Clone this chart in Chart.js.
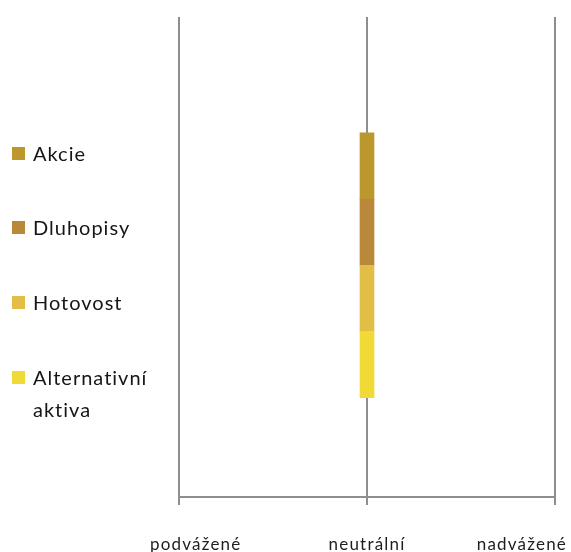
<!DOCTYPE html>
<html lang="cs">
<head>
<meta charset="utf-8">
<title>Alokace aktiv</title>
<script src="https://cdn.jsdelivr.net/npm/chart.js@4.4.1/dist/chart.umd.min.js"></script>
<style>
  html, body { margin: 0; padding: 0; background: #ffffff; }
  #wrap { position: relative; width: 571px; height: 552px; overflow: hidden; }
  #chart { position: absolute; left: 0; top: 0; }
  #legend { position: absolute; left: 12px; top: 0; margin: 0; padding: 0; list-style: none;
            font-family: Lato, "Open Sans", sans-serif; font-size: 20px; line-height: 32px;
            letter-spacing: 1px; color: #161616; }
  #legend li { position: absolute; left: 0; white-space: nowrap; }
  #legend .box { position: absolute; left: 0; top: 10px; width: 13px; height: 13px; }
  #legend .txt { display: block; margin-left: 21px; width: 135px; white-space: normal; }
</style>
</head>
<body>
<div id="wrap">
  <canvas id="chart" width="571" height="552"></canvas>
  <ul id="legend"></ul>
</div>
<script>
// Positioning scale along the horizontal axis
const tickLabels = ['podvážené', 'neutrální', 'nadvážené'];

// Asset classes, top to bottom as listed in the legend
const assetNames = ['Akcie', 'Dluhopisy', 'Hotovost', 'Alternativní aktiva'];
const assetColors = ['#BB972E', '#B98839', '#E2BE46', '#F2DA36'];

// Segment sizes of the column at each position (all classes sit at "neutrální")
const akcie        = [null, 1, null];
const dluhopisy    = [null, 1, null];
const hotovost     = [null, 1, null];
const alternativni = [null, 1, null];

const assetValues = [akcie, dluhopisy, hotovost, alternativni];

// Stack from the bottom up: last legend entry sits lowest
const datasets = assetNames.map((name, i) => ({
  label: name,
  data: assetValues[i],
  backgroundColor: assetColors[i],
  borderWidth: 0,
  barThickness: 14,
  legendIndex: i
})).reverse();

const AXIS_GREY = '#8e8e8e';

// Category labels under the axis, kept inside the visible band
const bandLabels = {
  id: 'bandLabels',
  afterDraw(chart) {
    const scale = chart.scales.x;
    const ctx = chart.ctx;
    const area = chart.chartArea;
    const minX = area.left - 29;
    const maxX = chart.width - 4;
    ctx.save();
    ctx.font = '17px Lato, "Open Sans", sans-serif';
    ctx.letterSpacing = '1.2px';
    ctx.fillStyle = '#1e1e1e';
    ctx.textBaseline = 'alphabetic';
    ctx.textAlign = 'left';
    scale.ticks.forEach((t, i) => {
      const text = scale.getLabelForValue(t.value);
      const w = ctx.measureText(text).width;
      let x = scale.getPixelForTick(i) - w / 2;
      x = Math.max(minX, Math.min(maxX - w, x));
      ctx.fillText(text, x, 550);
    });
    ctx.restore();
  }
};

// HTML legend built from the datasets
const htmlLegend = {
  id: 'htmlLegend',
  afterUpdate(chart) {
    const ul = document.getElementById('legend');
    ul.innerHTML = '';
    const ordered = chart.data.datasets.slice().sort((a, b) => a.legendIndex - b.legendIndex);
    ordered.forEach((ds, i) => {
      const li = document.createElement('li');
      li.style.top = (136.7 + i * 74.6) + 'px';
      const box = document.createElement('span');
      box.className = 'box';
      box.style.background = ds.backgroundColor;
      const txt = document.createElement('span');
      txt.className = 'txt';
      txt.textContent = ds.label;
      li.appendChild(box);
      li.appendChild(txt);
      ul.appendChild(li);
    });
  }
};

new Chart(document.getElementById('chart'), {
  type: 'bar',
  data: { labels: tickLabels, datasets },
  options: {
    responsive: false,
    animation: false,
    layout: { padding: { left: 179, right: 16, top: 17, bottom: 47 } },
    plugins: {
      legend: { display: false },
      tooltip: { enabled: false }
    },
    scales: {
      x: {
        stacked: true,
        offset: false,
        grid: {
          display: true,
          offset: false,
          color: AXIS_GREY,
          lineWidth: 2,
          drawTicks: true,
          tickLength: 8
        },
        border: { display: true, color: AXIS_GREY, width: 2 },
        ticks: { display: false }
      },
      y: {
        stacked: true,
        display: false,
        min: -1.5,
        max: 5.75
      }
    }
  },
  plugins: [bandLabels, htmlLegend]
});
</script>
</body>
</html>
